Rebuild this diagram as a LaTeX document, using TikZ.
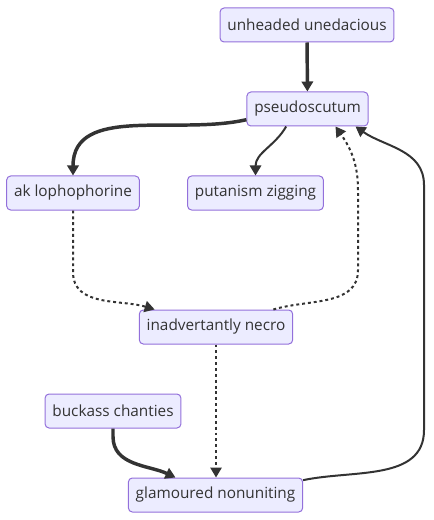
\documentclass[tikz,border=0pt]{standalone}
\usepackage{fontspec}
\setmainfont{Open Sans}
\usepackage{tikz}
\usetikzlibrary{arrows.meta,positioning}
\definecolor{boxfill}{HTML}{ECECFF}
\definecolor{boxline}{HTML}{9370DB}
\definecolor{ink}{HTML}{333333}

\begin{document}
\begin{tikzpicture}[x=.75pt,y=-.75pt,
  box/.style={draw=boxline,fill=boxfill,line width=.75pt,rounded corners=3pt,
    minimum height=25.5pt,inner xsep=5.5pt,font=\fontsize{11.5}{13}\selectfont,text=ink},
  link/.style={draw=ink,line width=1.5pt,-{Triangle[length=7.5pt,width=8.5pt]}},
  boldlink/.style={link,line width=2.6pt},
  dotlink/.style={link,dash pattern=on 2.2pt off 2.2pt}]
  \useasboundingbox (0,0) rectangle (433,520);
  \node[box] (uu) at (307,25) {unheaded unedacious};
  \node[box] (ps) at (307.5,109) {pseudoscutum};
  \node[box] (ak) at (73,193) {ak lophophorine};
  \node[box] (pz) at (255.5,193) {putanism zigging};
  \node[box] (in) at (216,327) {inadvertantly necro};
  \node[box] (bc) at (113,411) {buckass chanties};
  \node[box] (gn) at (215.5,495) {glamoured nonuniting};
  \draw[boldlink] (uu) -- (ps);
  \draw[boldlink] ([yshift=-8pt]ps.west) to[out=193,in=90] (ak.north);
  \draw[link] ([xshift=-16pt]ps.south) to[out=-120,in=90] (pz.north);
  \draw[dotlink] (ak.south) -- (ak.south |- 0,272) to[out=-90,in=163] ([xshift=-46pt]in.north);
  \draw[dotlink] ([xshift=43pt]in.north) to[out=17,in=-90] (358,270) -- (358,190)
    to[out=90,in=-55] ([xshift=21pt]ps.south);
  \draw[dotlink] (in.south) -- (in.south |- gn.north);
  \draw[boldlink] (bc.south) -- ++(0,8) to[out=-90,in=155] ([xshift=-30pt]gn.north);
  \draw[link] ([yshift=-2pt]gn.north east) to[out=12,in=-90] (424,430) -- (424,185)
    to[out=90,in=-35] ([xshift=36pt]ps.south);
\end{tikzpicture}
\end{document}
